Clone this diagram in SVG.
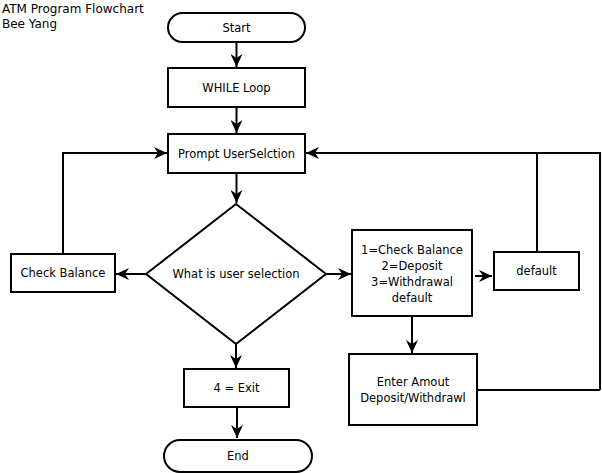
<svg xmlns="http://www.w3.org/2000/svg" width="602" height="473" viewBox="0 0 602 473">
<style>
.n{fill:#fff;stroke:#000;stroke-width:2}
.t{font-family:"DejaVu Sans",Verdana,sans-serif;font-size:11.5px;fill:#000;text-anchor:middle}
.h{font-family:"DejaVu Sans",Verdana,sans-serif;font-size:12px;fill:#000}
.c{fill:none;stroke:#000;stroke-width:2}
</style>
<defs>
<marker id="a" markerUnits="userSpaceOnUse" markerWidth="14" markerHeight="12" refX="13" refY="6" orient="auto">
<path d="M0,0 L13,6 L0,12 L4,6 z" fill="#000"/>
</marker>
</defs>
<rect width="602" height="473" fill="#fff"/>
<text class="h" x="2" y="13">ATM Program Flowchart</text>
<text class="h" x="2" y="28">Bee Yang</text>
<g id="connectors">
<path class="c" d="M236.5,42 V67" marker-end="url(#a)"/>
<path class="c" d="M236.5,107 V133" marker-end="url(#a)"/>
<path class="c" d="M236.5,173 V203" marker-end="url(#a)"/>
<path class="c" d="M146,274 H116" marker-end="url(#a)"/>
<path class="c" d="M63,254 V153 H167" marker-end="url(#a)"/>
<path class="c" d="M326,274 H351" marker-end="url(#a)"/>
<path class="c" d="M475,276 H492" marker-end="url(#a)"/>
<path class="c" d="M537,252 V153"/>
<path class="c" d="M600,390 V153 H306" marker-end="url(#a)"/>
<path class="c" d="M477,390 H600"/>
<path class="c" d="M412,316 V353" marker-end="url(#a)"/>
<path class="c" d="M236,344 V368" marker-end="url(#a)"/>
<path class="c" d="M237,407 V438" marker-end="url(#a)"/>
</g>
<g id="start">
<rect class="n" x="168" y="13" width="137" height="29" rx="14.5"/>
<text class="t" x="236.5" y="32">Start</text>
</g>
<g id="while">
<rect class="n" x="168" y="68" width="137" height="39"/>
<text class="t" x="236.5" y="92">WHILE Loop</text>
</g>
<g id="prompt">
<rect class="n" x="168" y="134" width="137" height="39"/>
<text class="t" x="236.5" y="158">Prompt UserSelction</text>
</g>
<g id="decision">
<polygon class="n" points="236,204 326,274 236,344 146,274"/>
<text class="t" x="236" y="278">What is user selection</text>
</g>
<g id="checkbalance">
<rect class="n" x="11" y="254" width="104" height="38"/>
<text class="t" x="63" y="277">Check Balance</text>
</g>
<g id="options">
<rect class="n" x="352" y="230" width="120" height="86"/>
<text class="t" x="412" y="254">1=Check Balance</text>
<text class="t" x="412" y="270">2=Deposit</text>
<text class="t" x="412" y="286">3=Withdrawal</text>
<text class="t" x="412" y="302">default</text>
</g>
<g id="default">
<rect class="n" x="494" y="252" width="85" height="38"/>
<text class="t" x="536.5" y="275">default</text>
</g>
<g id="enteramount">
<rect class="n" x="349" y="354" width="128" height="71"/>
<text class="t" x="413" y="386">Enter Amout</text>
<text class="t" x="413" y="402">Deposit/Withdrawl</text>
</g>
<g id="exit">
<rect class="n" x="184" y="369" width="105" height="38"/>
<text class="t" x="236.5" y="392">4 = Exit</text>
</g>
<g id="end">
<rect class="n" x="164" y="440" width="148" height="32" rx="16"/>
<text class="t" x="238" y="460">End</text>
</g>
</svg>
